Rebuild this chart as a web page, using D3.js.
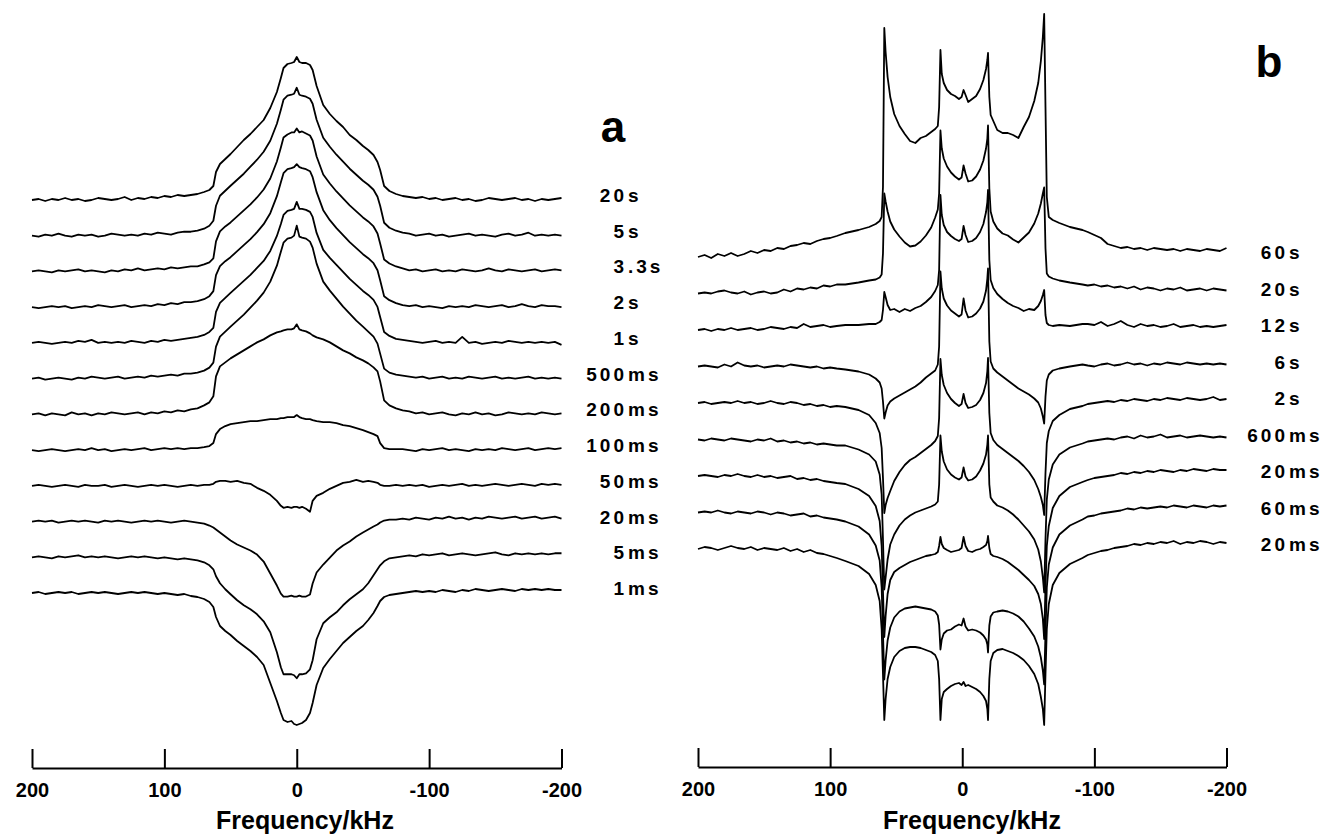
<!DOCTYPE html>
<html>
<head>
<meta charset="utf-8">
<script src="https://cdn.jsdelivr.net/npm/d3@7"></script>
<style>
  body { margin: 0; background: #fff; }
  svg text { font-family: "Liberation Sans", Arial, Helvetica, sans-serif; font-weight: bold; fill: #000; }
</style>
</head>
<body>
<svg id="chart" width="1322" height="835"></svg>
<script>
// frequency axis ticks (kHz)
const ticks = [200, 100, 0, -100, -200];

// ---------- panel a ----------
const labelsA = ["20s", "5s", "3.3s", "2s", "1s", "500ms", "200ms", "100ms", "50ms", "20ms", "5ms", "1ms"];

// kHz points: left wing | core | right wing
const gridA = [
  200, 195, 190, 185, 180, 175, 170, 165, 160, 155, 150, 145, 140, 135, 130, 125, 120, 115, 110, 105, 100, 95, 90, 85, 80,
  75, 70, 66, 63, 61, 58, 54, 50, 45, 40, 35, 30, 25, 20, 15, 12, 10, 7, 4, 2, 0,
  -2, -4, -7, -10, -12, -15, -20, -25, -30, -35, -40, -45, -50, -54, -58, -61, -63, -66, -70, -75,
  -80, -85, -90, -95, -100, -105, -110, -115, -120, -125, -130, -135, -140, -145, -150, -155, -160, -165, -170, -175, -180, -185, -190, -195, -200
];

// signal height of each spectrum above its own baseline
const a20s = [
  0, 1, -1, 1, 0, 2, 0, 1, -1, 0, 2, 1, 0, 1, 3, 0, 2, 1, 3, 2, 4, 3, 5, 4, 5,
  6, 8, 10, 14, 28, 36, 41, 46, 53, 60, 66, 73, 80, 92, 108, 122, 132, 136, 137, 138, 143,
  138, 137, 137, 135, 130, 114, 95, 86, 79, 73, 65, 60, 54, 50, 45, 38, 30, 14, 9, 6,
  4, 3, 2, 3, 1, 2, 0, 1, 2, 0, 1, -1, 0, 2, 1, 0, 1, 2, 0, 1, -1, 1, 0, 1, 2
];
const a5s = [
  0, -1, 1, 0, 2, 0, -1, 1, 0, 1, -1, 0, 2, 1, 0, 1, 0, 2, 1, 3, 2, 1, 3, 4, 4,
  5, 7, 10, 15, 30, 40, 45, 50, 56, 62, 69, 76, 84, 95, 112, 126, 136, 140, 141, 142, 148,
  141, 140, 139, 137, 132, 116, 98, 89, 81, 74, 67, 61, 55, 51, 46, 39, 30, 13, 8, 5,
  3, 2, 0, 1, 2, 0, 1, -1, 0, 1, 2, 0, 1, 0, -1, 1, 2, 0, 1, 3, 0, 1, 0, 1, 0
];
const a33s = [
  0, 1, 0, -1, 1, 0, 1, 2, 0, 1, 0, -1, 1, 0, 2, 1, 3, 1, 2, 3, 2, 4, 3, 4, 5,
  5, 7, 9, 13, 30, 40, 45, 49, 55, 61, 67, 74, 82, 93, 110, 124, 134, 137, 139, 139, 143,
  139, 140, 138, 136, 131, 115, 97, 88, 80, 73, 66, 60, 54, 50, 45, 38, 28, 12, 8, 5,
  3, 1, 2, 0, 1, 2, 0, 1, 0, 2, 1, 0, 1, 3, 1, 0, 2, 1, 0, 1, 2, 0, 1, 2, 1
];
const a2s = [
  0, -1, 0, 1, 0, 1, -1, 0, 1, 0, 2, 1, 0, 1, 2, 0, 1, 2, 1, 3, 2, 4, 3, 5, 5,
  6, 8, 11, 16, 32, 41, 46, 50, 56, 62, 68, 75, 83, 94, 111, 125, 134, 138, 139, 140, 143,
  140, 139, 138, 136, 130, 115, 97, 87, 79, 72, 65, 59, 53, 49, 44, 37, 27, 11, 7, 4,
  2, 1, 2, 0, 1, 0, -1, 1, 0, 1, 0, 2, 1, 0, 1, 2, 0, 1, 3, 1, 0, 2, 1, 1, 0
];
const a1s = [
  0, 1, 0, -1, 0, 1, 0, 2, 1, 3, 0, 1, 0, 1, 0, 2, 1, 0, 2, 1, 3, 2, 3, 4, 5,
  6, 8, 11, 15, 31, 40, 45, 50, 56, 62, 68, 75, 82, 92, 107, 119, 128, 132, 133, 134, 141,
  134, 134, 133, 131, 126, 110, 93, 85, 78, 71, 64, 58, 52, 48, 43, 36, 26, 11, 7, 4,
  3, 2, 1, 0, 1, 2, 0, 1, 0, 6, 0, 1, -1, 0, 1, 0, 2, 1, 0, 1, 0, 1, 0, 1, -2
];
const a500ms = [
  0, 1, -1, 0, 1, 0, -1, 1, 0, 2, 1, 0, 1, 2, 0, 1, 2, 1, 3, 2, 3, 4, 3, 5, 5,
  6, 8, 11, 16, 32, 42, 47, 52, 58, 64, 71, 78, 86, 97, 113, 127, 136, 140, 141, 143, 153,
  142, 141, 140, 137, 131, 115, 97, 88, 80, 72, 65, 58, 52, 47, 42, 35, 25, 10, 6, 4,
  3, 2, 1, 2, 0, 1, 2, 0, 1, 0, 2, 1, 0, 1, 2, 0, 1, 0, 1, 2, 0, 1, 0, 1, 0
];
const a200ms = [
  0, 1, -1, 1, 0, -1, 2, 0, 1, -1, 1, 0, 2, 1, 0, 1, 2, 0, 2, 1, 3, 2, 4, 3, 5,
  6, 9, 12, 18, 38, 48, 52, 56, 60, 64, 68, 72, 75, 79, 82, 83, 84, 85, 85, 86, 90,
  85, 84, 83, 81, 79, 77, 75, 72, 68, 64, 61, 57, 54, 51, 47, 43, 33, 14, 9, 6,
  4, 3, 1, 2, 0, 1, 2, 0, -1, 1, 0, 2, 0, 1, -1, 0, 2, 1, 0, 1, 0, 2, 1, 0, 1
];
const a100ms = [
  0, -1, 0, 1, 0, -1, 0, 1, 0, 2, 0, 1, -1, 0, 1, 0, 1, 2, 0, 1, 2, 1, 2, 1, 2,
  2, 3, 4, 7, 16, 21, 24, 26, 27, 28, 29, 29, 30, 31, 31, 32, 32, 33, 33, 33, 35,
  33, 32, 31, 31, 30, 29, 28, 28, 27, 25, 24, 22, 20, 18, 16, 14, 7, 2, 1, 1,
  1, 0, -1, 1, 0, 1, 2, 0, 1, 0, -1, 1, 0, 1, 0, 2, 1, 0, 1, 2, 0, 1, 2, 1, 2
];
const a50ms = [
  0, 1, 0, -1, 0, 1, 0, -1, 1, 0, 0, 1, -1, 0, 1, 0, -1, 0, 1, 0, 1, 0, -1, 0, 1,
  0, 1, 1, 2, 4, 5, 5, 4, 5, 3, 2, -2, -5, -9, -15, -20, -22, -21, -22, -21, -21,
  -22, -21, -23, -26, -15, -10, -7, -3, 0, 3, 4, 6, 4, 5, 4, 3, 1, 0, 0, 1,
  0, 1, 0, 1, -1, 0, 1, 0, 1, 2, 0, 1, 0, 1, 2, 1, 0, 1, 2, 1, 0, 2, 1, 2, 1
];
const a20ms = [
  0, 1, 0, 1, -1, 0, 1, 0, 1, 0, -1, 1, 0, 1, 0, -1, 0, 1, 0, 1, 0, -1, 0, 1, 0,
  -1, -2, -4, -6, -8, -11, -15, -19, -23, -26, -29, -33, -40, -52, -64, -72, -75, -75, -74, -75, -75,
  -74, -75, -75, -73, -62, -51, -43, -36, -29, -24, -20, -15, -11, -8, -5, -3, -1, 1, 2, 2,
  3, 2, 4, 3, 2, 4, 3, 5, 3, 4, 2, 4, 3, 5, 4, 3, 4, 5, 3, 4, 5, 3, 4, 5, 3
];
const a5ms = [
  0, 1, 0, -1, 1, 0, 1, 2, 0, 1, 0, 1, 0, -1, 0, 1, 0, 1, 0, -1, 0, -1, -2, -1, -2,
  -3, -5, -8, -12, -19, -26, -32, -37, -43, -48, -52, -57, -64, -75, -95, -110, -117, -117, -117, -118, -121,
  -117, -117, -116, -112, -103, -82, -66, -60, -55, -48, -42, -37, -32, -26, -18, -12, -8, -4, -1, 0,
  1, 2, 1, 3, 2, 3, 4, 2, 3, 4, 3, 2, 3, 4, 5, 3, 2, 4, 3, 4, 3, 4, 3, 4, 4
];
const a1ms = [
  0, 1, -1, 0, 1, 0, 1, -1, 0, 1, 0, 1, 0, -1, 0, 1, 0, 1, 0, -1, 0, -1, -2, -1, -3,
  -4, -6, -9, -14, -24, -33, -38, -42, -48, -53, -58, -64, -72, -90, -108, -120, -127, -129, -128, -131, -132,
  -131, -130, -127, -120, -110, -92, -75, -66, -58, -50, -44, -38, -33, -27, -20, -13, -8, -4, -2, -1,
  0, 1, 2, 1, 2, 1, 3, 2, 1, 3, 2, 4, 3, 2, 3, 4, 3, 2, 4, 3, 4, 3, 4, 3, 3
];

// ---------- panel b ----------
const labelsB = ["60s", "20s", "12s", "6s", "2s", "600ms", "20ms", "60ms", "20ms"];

const gridB = [
  200, 195, 190, 185, 180, 175, 170, 165, 160, 155, 150, 145, 140, 135, 130, 125, 120, 115, 110, 105, 100, 95,
  88.5, 78.5, 70.5, 65.5, 62.5, 61, 60, 59, 58, 56.5,
  54.5, 51.5, 47.5, 43.5, 39.5, 35.5, 31.5, 27.5, 23.5, 20.5,
  18.5, 17.5, 16.5, 15.5, 14, 11.5, 8.5, 5.5, 2.5, 0.5,
  -1, -2.5, -4.5, -7.5, -10.5, -13.5, -16, -18, -19, -19.5,
  -20.5, -21.5, -23.5, -26.5, -30.5, -34.5, -38.5, -42.5, -46.5, -50.5,
  -54.5, -57.5, -59.5, -61, -62, -63, -64, -65.5, -68.5, -73.5,
  -81.5, -91,
  -95, -100, -105, -110, -115, -120, -125, -130, -135, -140, -145, -150, -155, -160, -165, -170, -175, -180, -185, -190, -195, -200
];

const b60s = [
  0, 2, -1, 3, 1, 4, 1, 3, 6, 4, 7, 6, 9, 8, 11, 12, 14, 13, 16, 18, 19, 21,
  24, 27, 30, 33, 36, 40, 70, 229, 205, 180,
  160, 143, 131, 123, 116, 114, 119, 121, 125, 128,
  131, 150, 207, 183, 174, 167, 163, 161, 158, 160,
  167, 162, 155, 158, 161, 168, 177, 188, 197, 204,
  160, 142, 136, 127, 124, 124, 122, 119, 130, 140,
  156, 174, 196, 220, 243, 150, 60, 40, 37, 34,
  30, 27,
  25, 22, 19, 13, 11, 9, 10, 8, 9, 7, 9, 8, 7, 8, 6, 8, 7, 6, 8, 7, 6, 9
];
const b20s = [
  0, 1, 0, 2, 3, 1, 0, 2, -1, 1, 2, 0, 1, 4, 2, 5, 4, 6, 5, 8, 7, 9,
  9, 11, 13, 14, 16, 19, 40, 100, 92, 82,
  72, 64, 57, 51, 47, 48, 52, 58, 66, 76,
  84, 100, 163, 145, 135, 127, 121, 117, 114, 116,
  128, 120, 112, 113, 117, 124, 133, 145, 155, 168,
  105, 82, 72, 65, 60, 58, 54, 51, 56, 61,
  70, 80, 90, 100, 106, 45, 20, 17, 15, 13,
  11, 9,
  8, 9, 7, 8, 6, 7, 5, 7, 4, 6, 5, 3, 5, 4, 6, 3, 4, 5, 3, 5, 4, 3
];
const b12s = [
  0, 1, -1, 1, 0, 2, 0, 1, 2, 0, 1, 3, 2, 1, 3, 2, 6, 3, 4, 5, 3, 4,
  5, 5, 6, 6, 8, 10, 20, 38, 33, 25,
  20, 21, 18, 21, 19, 22, 24, 28, 33, 39,
  45, 60, 135, 115, 105, 98, 94, 91, 89, 91,
  104, 95, 88, 89, 92, 98, 106, 118, 128, 140,
  70, 50, 42, 36, 31, 27, 24, 22, 19, 21,
  20, 24, 29, 35, 40, 15, 7, 5, 4, 5,
  4, 6,
  6, 5, 8, 4, 6, 9, 5, 3, 6, 4, 5, 3, 4, 6, 3, 4, 5, 3, 4, 3, 4, 5
];
const b6s = [
  0, 1, 0, -1, 2, 0, 4, 1, 0, 1, -1, 0, 1, 0, 2, 1, 0, -1, 0, -2, -1, -2,
  -3, -5, -8, -12, -16, -22, -35, -52, -46, -39,
  -35, -32, -29, -26, -23, -20, -16, -11, -7, -4,
  2, 20, 95, 78, 68, 61, 56, 53, 50, 52,
  68, 56, 49, 50, 53, 58, 65, 76, 88, 98,
  25, 5, -2, -6, -10, -14, -18, -22, -25, -28,
  -32, -36, -42, -50, -57, -30, -14, -8, -4, -2,
  0, 2,
  1, 0, 2, 3, 1, 2, 4, 2, 3, 1, 3, 2, 4, 3, 2, 4, 3, 2, 3, 2, 3, 2
];
const b2s = [
  0, 1, -1, 0, 1, 0, 2, 0, 1, -1, 0, 2, 0, -1, 1, 0, -2, -1, -3, -2, -4, -3,
  -4, -7, -12, -20, -30, -45, -75, -110, -102, -95,
  -88, -78, -69, -62, -57, -54, -50, -46, -42, -38,
  -33, -15, 44, 28, 18, 10, 4, 0, -3, -1,
  9, 0, -5, -4, -2, 3, 10, 20, 32, 45,
  -10, -30, -37, -42, -46, -50, -54, -58, -63, -69,
  -77, -86, -94, -102, -112, -70, -40, -28, -18, -12,
  -6, -3,
  -1, 0, 1, 2, 1, 3, 2, 4, 3, 2, 4, 3, 5, 4, 3, 5, 4, 3, 4, 6, 3, 4
];
const b600ms = [
  0, -1, 1, 0, -1, 1, 0, -1, -2, 0, -1, 1, -2, -1, -3, -2, -4, -3, -5, -4, -5, -6,
  -6, -10, -15, -22, -35, -55, -100, -150, -138, -120,
  -105, -95, -86, -80, -76, -73, -71, -69, -67, -65,
  -62, -45, 4, -12, -22, -30, -35, -38, -40, -38,
  -28, -37, -41, -40, -37, -31, -24, -15, -5, 4,
  -45, -58, -62, -66, -68, -71, -75, -80, -86, -92,
  -100, -110, -122, -138, -153, -100, -60, -40, -25, -15,
  -8, -4,
  -2, -1, 0, 1, 0, 2, 3, 1, 4, 2, 3, 5, 2, 3, 4, 2, 3, 4, 3, 2, 3, 2
];
const b20msA = [
  0, 1, 0, -1, 1, 0, 2, 0, -1, 1, -1, 0, -2, -1, 0, -3, -2, -4, -3, -5, -6, -7,
  -8, -13, -20, -30, -45, -70, -115, -161, -140, -118,
  -104, -96, -92, -89, -86, -84, -82, -80, -79, -78,
  -76, -70, -61, -68, -72, -74, -76, -75, -74, -72,
  -61, -70, -75, -76, -74, -73, -71, -69, -65, -60,
  -72, -78, -80, -81, -83, -86, -90, -94, -99, -104,
  -110, -118, -128, -143, -163, -110, -70, -50, -32, -20,
  -11, -6,
  -4, -2, -1, 0, 1, 3, 2, 4, 3, 5, 4, 6, 5, 4, 6, 5, 7, 6, 5, 7, 6, 6
];
const b60ms = [
  0, 1, 0, 2, 0, -1, 1, 0, -1, 1, 0, -2, 0, -1, -3, -2, -1, -4, -3, -5, -6, -7,
  -9, -14, -22, -33, -48, -75, -120, -167, -148, -128,
  -115, -105, -99, -96, -95, -94, -95, -96, -97, -99,
  -103, -112, -137, -127, -121, -118, -117, -114, -112, -113,
  -106, -114, -118, -117, -118, -120, -123, -127, -132, -140,
  -113, -104, -100, -99, -98, -99, -101, -104, -109, -116,
  -124, -134, -145, -158, -172, -120, -75, -52, -35, -22,
  -13, -7,
  -4, -3, -1, 0, 1, 2, 4, 3, 5, 4, 5, 6, 5, 7, 6, 5, 7, 6, 5, 7, 6, 7
];
const b20msB = [
  0, 2, 1, -1, 1, 3, 1, 0, 2, -1, 1, 0, -1, 1, -2, 0, -3, -1, -4, -5, -7, -9,
  -12, -17, -25, -36, -52, -80, -125, -171, -150, -130,
  -118, -108, -102, -99, -98, -98, -99, -101, -103, -106,
  -112, -130, -171, -150, -143, -140, -137, -135, -134, -136,
  -133, -137, -136, -138, -140, -143, -147, -152, -160, -171,
  -130, -112, -104, -101, -100, -102, -104, -107, -111, -117,
  -125, -135, -148, -160, -176, -125, -80, -55, -36, -24,
  -15, -9,
  -6, -4, -2, -1, 1, 2, 3, 5, 4, 6, 5, 7, 6, 8, 5, 7, 6, 8, 7, 5, 7, 6
];

const tracesA = [a20s, a5s, a33s, a2s, a1s, a500ms, a200ms, a100ms, a50ms, a20ms, a5ms, a1ms];
const tracesB = [b60s, b20s, b12s, b6s, b2s, b600ms, b20msA, b60ms, b20msB];

const svg = d3.select("#chart");

function drawPanel(p) {
  const g = svg.append("g");

  const x = d3.scaleLinear().domain([200, -200]).range(p.xRange);
  // baseline of each stacked spectrum
  const base = d3.scaleLinear().domain([0, p.traces.length - 1]).range(p.baseRange);
  // intensity -> pixel offset
  const amp = d3.scaleLinear().domain([0, 100]).range([0, -100]);

  p.traces.forEach(function(vals, i) {
    const pts = p.grid.map(function(f, k) { return [f, vals[k]]; })
      .filter(function(d) { return d[1] !== undefined; });
    const line = d3.line()
      .x(function(d) { return x(d[0]); })
      .y(function(d) { return base(i) + amp(d[1]); });

    g.append("path")
      .attr("d", line(pts))
      .attr("fill", "none")
      .attr("stroke", "#000")
      .attr("stroke-width", 1.8)
      .attr("stroke-linejoin", "round");

    // label, aligned on the end of its number
    const m = p.labels[i].match(/^(\d+)(.*)$/);
    const ly = base(i) + 2;
    g.append("text")
      .attr("x", p.labelX).attr("y", ly)
      .attr("text-anchor", "end")
      .attr("font-size", 19)
      .style("letter-spacing", "3px")
      .text(m[1]);
    g.append("text")
      .attr("x", p.labelX + 1).attr("y", ly)
      .attr("text-anchor", "start")
      .attr("font-size", 19)
      .style("letter-spacing", "3px")
      .text(m[2]);
  });

  // frequency axis
  const axis = d3.axisBottom(x)
    .tickValues(ticks)
    .tickSizeInner(-19)
    .tickSizeOuter(0)
    .tickPadding(15)
    .tickFormat(function(d) { return String(d); });

  const ax = g.append("g")
    .attr("transform", "translate(0," + p.axisY + ")")
    .call(axis);
  ax.attr("font-size", 20);
  ax.selectAll(".tick text").attr("font-size", 20);
  ax.select(".domain").attr("stroke-width", 2);
  ax.selectAll(".tick line").attr("stroke-width", 2);

  g.append("text")
    .attr("x", p.titleX).attr("y", 829)
    .attr("text-anchor", "middle")
    .attr("font-size", 25)
    .text("Frequency/kHz");

  g.append("text")
    .attr("x", p.letterPos[0]).attr("y", p.letterPos[1])
    .attr("text-anchor", "middle")
    .attr("font-size", 44)
    .text(p.letter);
}

drawPanel({
  grid: gridA, traces: tracesA, labels: labelsA,
  xRange: [32, 561.5], baseRange: [200, 593],
  labelX: 627, axisY: 768, titleX: 305,
  letter: "a", letterPos: [613, 142]
});

drawPanel({
  grid: gridB, traces: tracesB, labels: labelsB,
  xRange: [698, 1226.5], baseRange: [257, 549],
  labelX: 1288, axisY: 767, titleX: 972,
  letter: "b", letterPos: [1269, 77]
});
</script>
</body>
</html>
